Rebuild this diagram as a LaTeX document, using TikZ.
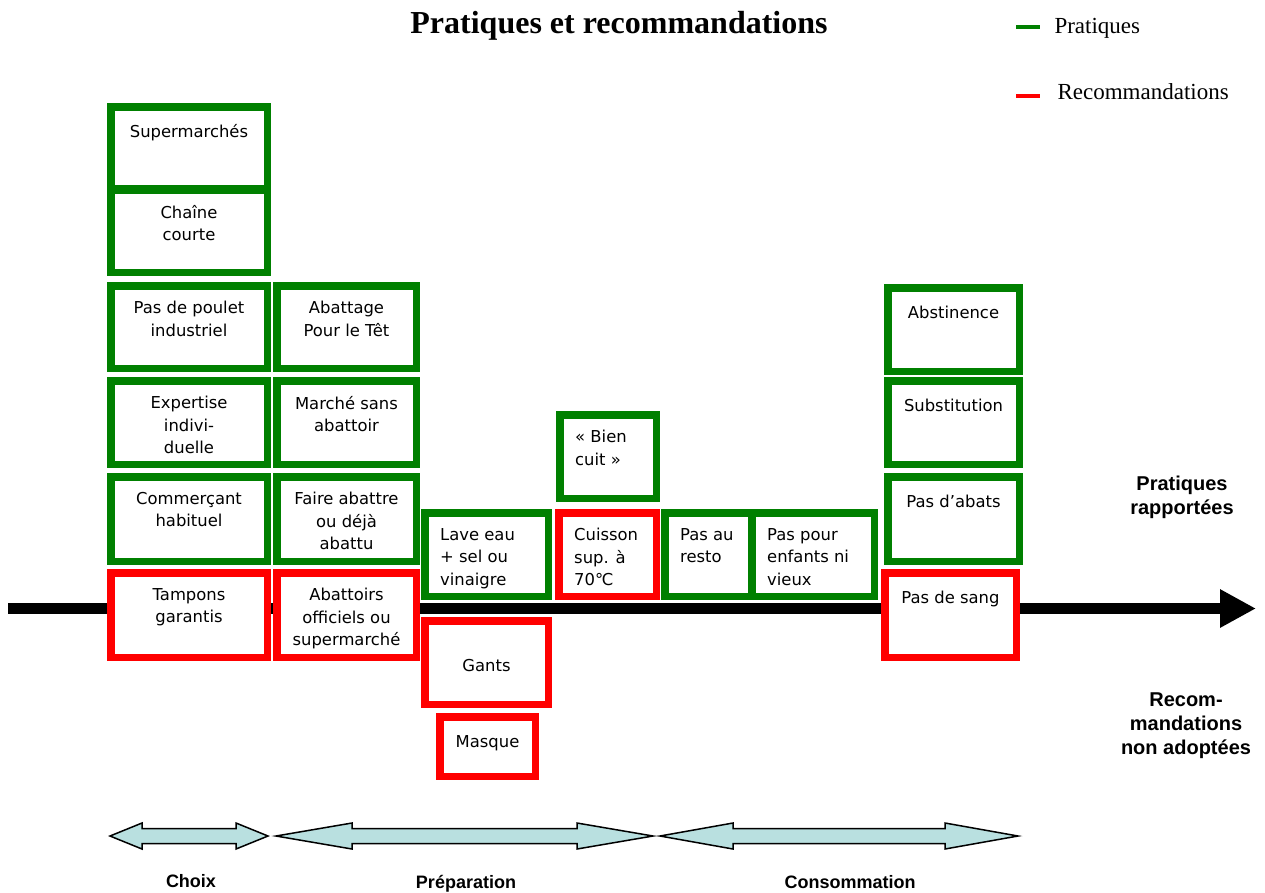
\documentclass[tikz,border=0pt]{standalone}
\usepackage{fontspec}
\setmainfont{Liberation Serif}
\newfontfamily\boxfont{DejaVu Sans}
\newfontfamily\labfont{Liberation Sans}
\usetikzlibrary{positioning,arrows.meta,fit}
\definecolor{cPrat}{RGB}{0,128,0}
\definecolor{cReco}{RGB}{255,0,0}
\definecolor{cPhase}{RGB}{185,224,224}

\begin{document}
\begin{tikzpicture}[x=1pt,y=-1pt]
\tikzset{
  box/.style={draw,fill=white,line width=7.5pt,inner sep=-3.75pt},
  prat/.style={box,draw=cPrat},
  reco/.style={box,draw=cReco},
  txt/.style={anchor=north,yshift=-19pt,align=center,inner sep=0pt,font=\fontsize{16.4}{22.5}\boxfont,execute at begin node=\strut},
  txtw/.style={txt,anchor=north west,xshift=19pt,align=left},
  phase/.style={draw,fill=cPhase,line width=1.5pt},
  phaselab/.style={anchor=base,font=\fontsize{18}{21}\labfont\bfseries},
  sidelab/.style={align=center,font=\fontsize{20}{24}\labfont\bfseries},
  legend/.style={anchor=base west,font=\fontsize{23}{27}\selectfont}
}
\useasboundingbox[fill=white] (0,0) rectangle (1265,892);

% title and legend
\node[anchor=base,font=\bfseries\fontsize{32}{36}\selectfont] (title) at (619,33) {Pratiques et recommandations};
\draw[cPrat,line width=4pt] (1016,27) -- (1040,27);
\node[legend] (lPrat) at (1051,33) {Pratiques};
\draw[cReco,line width=4pt] (1016,96) -- (1040,96);
\node[legend] (lReco) at (1054,99) {Recommandations};

% time axis
\coordinate (axL) at (8,608.5);
\coordinate (axR) at (1256,608.5);
\draw[line width=11pt,-{Triangle[length=36pt 0,width=36pt 0]}] (axL) -- (axR);

% choix
\node[prat,fit={(107,103)(271,192)},label={[txt]north:Supermarchés}] (sup) {};
\node[prat,fit={(107,186)(271,276)},label={[txt]north:{Chaîne\\courte}}] (chaine) {};
\node[prat,fit={(107,282)(271,372)},label={[txt]north:{Pas de poulet\\industriel}}] (poulet) {};
\node[prat,fit={(273,282)(420,372)},label={[txt]north:{Abattage\\Pour le Têt}}] (tet) {};
\node[prat,fit={(107,377)(271,468)},label={[txt]north:{Expertise\\indivi-\\duelle}}] (expert) {};
\node[prat,fit={(273,377)(420,468)},label={[txt]north:{Marché sans\\abattoir}}] (marche) {};
\node[prat,fit={(107,473)(271,565)},label={[txt]north:{Commerçant\\habituel}}] (habituel) {};
\node[prat,fit={(273,473)(420,565)},label={[txt]north:{Faire abattre\\ou déjà\\abattu}}] (abattre) {};
\node[reco,fit={(107,569)(271,661)},label={[txt]north:{Tampons\\garantis}}] (tampons) {};
\node[reco,fit={(273,569)(420,661)},label={[txt]north:{Abattoirs\\officiels ou\\supermarché}}] (officiels) {};

% preparation
\node[prat,fit={(421,509)(552,600)},label={[txtw]north west:{Lave eau\\+ sel ou\\vinaigre}}] (lave) {};
\node[prat,fit={(556,411)(660,502)},label={[txtw]north west:{« Bien\\cuit »}}] (bien) {};
\node[reco,fit={(555,509)(660,600)},label={[txtw]north west:{Cuisson\\sup. à\\70℃}}] (cuisson) {};
\node[reco,fit={(421,617)(552,708)},label={[txt,yshift=-20pt]north:Gants}] (gants) {};
\node[reco,fit={(436,713)(539,780)},label={[txt]north:Masque}] (masque) {};

% consommation
\node[prat,fit={(661,509)(755,600)},label={[txtw]north west:{Pas au\\resto}}] (resto) {};
\node[prat,fit={(748,509)(878,600)},label={[txtw]north west:{Pas pour\\enfants ni\\vieux}}] (enfants) {};
\node[prat,fit={(884,284)(1023,375)},label={[txt]north:Abstinence}] (abst) {};
\node[prat,fit={(884,377)(1023,468)},label={[txt]north:Substitution}] (subst) {};
\node[prat,fit={(884,473)(1023,565)},label={[txt]north:Pas d’abats}] (abats) {};
\node[reco,fit={(881,569)(1020,661)},label={[txt]north:Pas de sang}] (sang) {};

\node[sidelab] (rapp) at (1182,497) {Pratiques\\rapportées};
\node[sidelab] (nonad) at (1186,726) {Recom-\\mandations\\non adoptées};

% phases
\foreach \xa/\xb/\hl in {110/268/32,276/653/76,660/1018/73}
  \draw[phase] (\xa,836) -- (\xa+\hl,823) -- (\xa+\hl,828.5) -- (\xb-\hl,828.5) -- (\xb-\hl,823) -- (\xb,836)
    -- (\xb-\hl,849) -- (\xb-\hl,843.5) -- (\xa+\hl,843.5) -- (\xa+\hl,849) -- cycle;
\node[phaselab] (choix) at (191,887) {Choix};
\node[phaselab] (prep) at (466,888) {Préparation};
\node[phaselab] (conso) at (850,888) {Consommation};
\end{tikzpicture}
\end{document}
